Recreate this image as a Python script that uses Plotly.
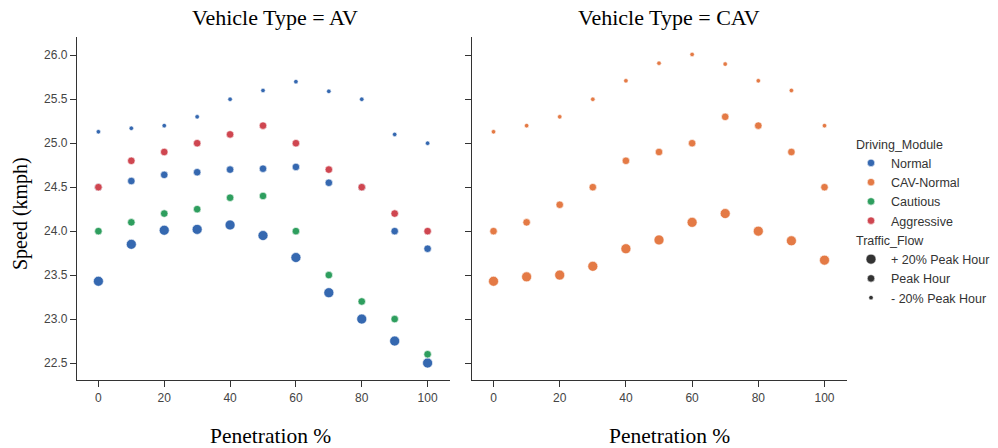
import plotly.graph_objects as go

penetration = [0, 10, 20, 30, 40, 50, 60, 70, 80, 90, 100]

# AV panel
av_normal_minus20 = [25.13, 25.17, 25.20, 25.30, 25.50, 25.60, 25.70, 25.59, 25.50, 25.10, 25.00]
av_normal_peak = [24.50, 24.57, 24.64, 24.67, 24.70, 24.71, 24.73, 24.55, 24.50, 24.00, 23.80]
av_normal_plus20 = [23.43, 23.85, 24.01, 24.02, 24.07, 23.95, 23.70, 23.30, 23.00, 22.75, 22.50]
av_cautious_peak = [24.00, 24.10, 24.20, 24.25, 24.38, 24.40, 24.00, 23.50, 23.20, 23.00, 22.60]
av_aggressive_peak = [24.50, 24.80, 24.90, 25.00, 25.10, 25.20, 25.00, 24.70, 24.50, 24.20, 24.00]

# CAV panel
cav_minus20 = [25.13, 25.20, 25.30, 25.50, 25.71, 25.91, 26.01, 25.90, 25.71, 25.60, 25.20]
cav_peak = [24.00, 24.10, 24.30, 24.50, 24.80, 24.90, 25.00, 25.30, 25.20, 24.90, 24.50]
cav_plus20 = [23.43, 23.48, 23.50, 23.60, 23.80, 23.90, 24.10, 24.20, 24.00, 23.89, 23.67]

modules = ["Normal", "CAV-Normal", "Cautious", "Aggressive"]
flows = ["+ 20% Peak Hour", "Peak Hour", "- 20% Peak Hour"]
y_ticks = [22.5, 23.0, 23.5, 24.0, 24.5, 25.0, 25.5, 26.0]
x_ticks = [0, 20, 40, 60, 80, 100]

COL = {"Normal": "#3568b0", "CAV-Normal": "#e47a45", "Cautious": "#2e9e5e", "Aggressive": "#cf4650"}
SIZE = {"+ 20% Peak Hour": 10, "Peak Hour": 7.5, "- 20% Peak Hour": 4.5}

fig = go.Figure()

def add(xax, yax, ys, module, flow):
    fig.add_trace(go.Scatter(
        x=penetration, y=ys, mode="markers", xaxis=xax, yaxis=yax,
        marker=dict(color=COL[module], size=SIZE[flow], line=dict(color="white", width=0.6)),
        showlegend=False, hoverinfo="x+y"))

add("x", "y", av_normal_minus20, "Normal", "- 20% Peak Hour")
add("x", "y", av_normal_peak, "Normal", "Peak Hour")
add("x", "y", av_normal_plus20, "Normal", "+ 20% Peak Hour")
add("x", "y", av_cautious_peak, "Cautious", "Peak Hour")
add("x", "y", av_aggressive_peak, "Aggressive", "Peak Hour")
add("x2", "y2", cav_minus20, "CAV-Normal", "- 20% Peak Hour")
add("x2", "y2", cav_peak, "CAV-Normal", "Peak Hour")
add("x2", "y2", cav_plus20, "CAV-Normal", "+ 20% Peak Hour")

# legend entries
for i, m in enumerate(modules):
    fig.add_trace(go.Scatter(
        x=[None], y=[None], mode="markers", name=m, legendgroup="mod",
        legendgrouptitle=dict(text="Driving_Module") if i == 0 else None,
        marker=dict(color=COL[m], size=7.5, line=dict(color="white", width=0.6))))
for i, f in enumerate(flows):
    fig.add_trace(go.Scatter(
        x=[None], y=[None], mode="markers", name=f, legendgroup="flow",
        legendgrouptitle=dict(text="Traffic_Flow") if i == 0 else None,
        marker=dict(color="#333333", size=SIZE[f], line=dict(color="white", width=0.6))))

tickfont = dict(family="Liberation Sans, Arial", size=12, color="#444444")
axis_common = dict(showline=True, linecolor="#333333", linewidth=1.3, ticks="outside",
                   ticklen=6, tickwidth=1.2, tickcolor="#333333", showgrid=False,
                   zeroline=False, tickfont=tickfont)

yr = [22.307, 26.208]
xr = [-6.5, 106.8]
serif = "Liberation Serif, Times New Roman"

def px_x(p):
    return (p - 77) / 770.0

fig.update_layout(
    width=998, height=448,
    margin=dict(l=77, r=151, t=37, b=68, autoexpand=False),
    paper_bgcolor="white", plot_bgcolor="white",
    xaxis=dict(domain=[0, 0.4844], range=xr, tickvals=x_ticks, **axis_common),
    xaxis2=dict(domain=[0.513, 1], range=xr, tickvals=x_ticks, **axis_common),
    yaxis=dict(domain=[0, 1], range=yr, tickvals=y_ticks, tickformat=".1f", anchor="x", **axis_common),
    yaxis2=dict(domain=[0, 1], range=yr, tickvals=y_ticks, showticklabels=False,
                anchor="x2", matches="y", **axis_common),
    legend=dict(x=px_x(851), xanchor="left", y=(380 - 129) / 343.0, yanchor="top", xref="paper",
                font=dict(family="Liberation Sans, Arial", size=12.5, color="#333333"),
                grouptitlefont=dict(family="Liberation Sans, Arial", size=12.5, color="#333333"),
                tracegroupgap=0, itemsizing="trace", bgcolor="rgba(0,0,0,0)"),
    annotations=[
        dict(text="Vehicle Type = AV", x=px_x(275), xref="paper", xanchor="center",
             y=(380 - 18) / 343.0, yref="paper", yanchor="middle",
             showarrow=False, font=dict(family=serif, size=22, color="black")),
        dict(text="Vehicle Type = CAV", x=px_x(669), xref="paper", xanchor="center",
             y=(380 - 18) / 343.0, yref="paper", yanchor="middle",
             showarrow=False, font=dict(family=serif, size=22, color="black")),
        dict(text="Penetration %", x=px_x(270), xref="paper", xanchor="center",
             y=(380 - 436) / 343.0, yref="paper", yanchor="middle",
             showarrow=False, font=dict(family=serif, size=21.5, color="black")),
        dict(text="Penetration %", x=px_x(669), xref="paper", xanchor="center",
             y=(380 - 436) / 343.0, yref="paper", yanchor="middle",
             showarrow=False, font=dict(family=serif, size=21.5, color="black")),
        dict(text="Speed (kmph)", x=px_x(20.5), xref="paper", xanchor="center",
             y=(380 - 213.5) / 343.0, yref="paper", yanchor="middle", textangle=-90,
             showarrow=False, font=dict(family=serif, size=20, color="black")),
    ],
)

fig.write_html("out.html")
